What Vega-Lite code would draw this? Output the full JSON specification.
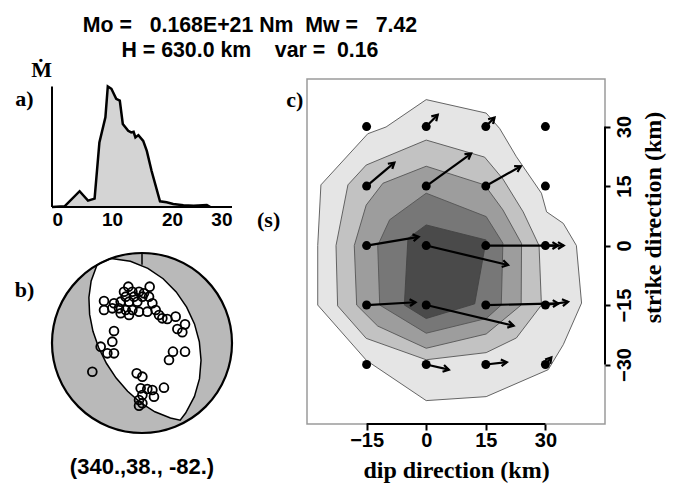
{
  "$schema": "https://vega.github.io/schema/vega-lite/v6.json",
  "background": "white",
  "autosize": {"type": "pad"},
  "padding": {"left": 14, "top": 15, "right": 5, "bottom": 5},
  "title": {
    "text": ["Mo =\u00a0\u00a0 0.168E+21 Nm\u00a0 Mw =\u00a0\u00a0 7.42", "H = 630.0 km\u00a0\u00a0\u00a0 var =\u00a0 0.16"],
    "anchor": "start", "frame": "group", "align": "center", "dx": 198,
    "fontSize": 21.3, "font": "Liberation Sans", "fontWeight": "bold", "color": "black", "lineHeight": 25, "offset": -3
  },
  "datasets": {
    "mrf": [
      {"t": 0, "v": 0}, {"t": 2.1, "v": 2}, {"t": 4.6, "v": 47}, {"t": 6.0, "v": 19}, {"t": 7.1, "v": 25},
      {"t": 7.9, "v": 192}, {"t": 8.9, "v": 267}, {"t": 9.3, "v": 359}, {"t": 9.9, "v": 352}, {"t": 10.7, "v": 322},
      {"t": 11.3, "v": 317}, {"t": 11.8, "v": 247}, {"t": 12.7, "v": 227}, {"t": 13.2, "v": 222}, {"t": 13.6, "v": 224},
      {"t": 13.9, "v": 207}, {"t": 14.4, "v": 214}, {"t": 15.2, "v": 197}, {"t": 15.8, "v": 167}, {"t": 16.6, "v": 107},
      {"t": 18.0, "v": 17}, {"t": 19.1, "v": 14}, {"t": 20.2, "v": 9}, {"t": 21.9, "v": 5}, {"t": 23.6, "v": 4},
      {"t": 25.8, "v": 6}, {"t": 26.4, "v": 0}
    ],
    "ayaxis": [{"t": 0, "v0": 0, "v1": 359}],
    "axline": [{"t0": 0, "t1": 30, "v": 0}],
    "alabels": [
      {"x": -1.75, "y": 388, "label": "Ṁ"},
      {"x": -4.6, "y": 301, "label": "a)"},
      {"x": 36.1, "y": -58.6, "label": "(s)"}
    ],
    "center": [{"x": 0, "y": 0}],
    "ntick": [{"x": 0, "y0": 1, "y1": 0.87}],
    "lens": [
      {"i": 1, "x": -0.342, "y": 0.940}, {"i": 2, "x": -0.129, "y": 0.908}, {"i": 3, "x": 0.065, "y": 0.830},
      {"i": 4, "x": 0.235, "y": 0.714}, {"i": 5, "x": 0.380, "y": 0.568}, {"i": 6, "x": 0.496, "y": 0.399},
      {"i": 7, "x": 0.583, "y": 0.212}, {"i": 8, "x": 0.637, "y": 0.014}, {"i": 9, "x": 0.656, "y": -0.191},
      {"i": 10, "x": 0.639, "y": -0.396}, {"i": 11, "x": 0.583, "y": -0.594}, {"i": 12, "x": 0.485, "y": -0.778},
      {"i": 13, "x": 0.424, "y": -0.857}, {"i": 14, "x": 0.316, "y": -0.834}, {"i": 15, "x": 0.143, "y": -0.764},
      {"i": 16, "x": -0.016, "y": -0.663}, {"i": 17, "x": -0.160, "y": -0.537}, {"i": 18, "x": -0.287, "y": -0.390},
      {"i": 19, "x": -0.394, "y": -0.228}, {"i": 20, "x": -0.481, "y": -0.053}, {"i": 21, "x": -0.545, "y": 0.130},
      {"i": 22, "x": -0.582, "y": 0.318}, {"i": 23, "x": -0.590, "y": 0.506}, {"i": 24, "x": -0.565, "y": 0.690},
      {"i": 25, "x": -0.500, "y": 0.866}, {"i": 26, "x": -0.423, "y": 0.906}, {"i": 27, "x": -0.342, "y": 0.940}
    ],
    "obs": [
      {"x": -0.152, "y": 0.626}, {"x": 0.085, "y": 0.626}, {"x": -0.2, "y": 0.570}, {"x": -0.107, "y": 0.570},
      {"x": -0.033, "y": 0.570}, {"x": 0.022, "y": 0.552}, {"x": -0.181, "y": 0.515}, {"x": -0.089, "y": 0.515},
      {"x": 0.004, "y": 0.515}, {"x": 0.078, "y": 0.515}, {"x": -0.422, "y": 0.467}, {"x": -0.311, "y": 0.441},
      {"x": -0.237, "y": 0.459}, {"x": -0.144, "y": 0.459}, {"x": -0.052, "y": 0.459}, {"x": 0.115, "y": 0.441},
      {"x": -0.422, "y": 0.367}, {"x": -0.330, "y": 0.385}, {"x": -0.256, "y": 0.385}, {"x": -0.181, "y": 0.367},
      {"x": -0.107, "y": 0.367}, {"x": -0.033, "y": 0.348}, {"x": 0.059, "y": 0.348}, {"x": 0.152, "y": 0.367},
      {"x": -0.237, "y": 0.330}, {"x": -0.144, "y": 0.311}, {"x": 0.189, "y": 0.311}, {"x": 0.226, "y": 0.274},
      {"x": 0.281, "y": 0.267}, {"x": 0.374, "y": 0.293}, {"x": 0.478, "y": 0.207}, {"x": 0.393, "y": 0.156},
      {"x": 0.448, "y": 0.119}, {"x": -0.311, "y": 0.133}, {"x": -0.330, "y": 0.015}, {"x": -0.459, "y": -0.041},
      {"x": -0.385, "y": -0.115}, {"x": -0.311, "y": -0.115}, {"x": 0.344, "y": -0.096}, {"x": 0.478, "y": -0.096},
      {"x": 0.300, "y": -0.189}, {"x": -0.552, "y": -0.319}, {"x": -0.059, "y": -0.337}, {"x": 0.004, "y": -0.374},
      {"x": -0.015, "y": -0.504}, {"x": 0.059, "y": -0.511}, {"x": 0.115, "y": -0.522}, {"x": 0.244, "y": -0.496},
      {"x": 0.133, "y": -0.596}, {"x": 0.004, "y": -0.578}, {"x": -0.033, "y": -0.633}, {"x": 0.004, "y": -0.670},
      {"x": -0.033, "y": -0.696}
    ],
    "blab": [{"x": -1.306, "y": 0.514, "label": "b)"}],
    "bmech": [{"x": 0, "y": -1.452, "label": "(340.,38., -82.)"}],
    "contours": [
      {"lev": 1, "i": 1, "x": 0, "y": 36.8}, {"lev": 1, "i": 2, "x": 15.1, "y": 33.4}, {"lev": 1, "i": 3, "x": 18.5, "y": 29.5},
      {"lev": 1, "i": 4, "x": 22.7, "y": 22.4}, {"lev": 1, "i": 5, "x": 29, "y": 13.2}, {"lev": 1, "i": 6, "x": 30.3, "y": 8.5},
      {"lev": 1, "i": 7, "x": 34.5, "y": 5.6}, {"lev": 1, "i": 8, "x": 37.8, "y": 0}, {"lev": 1, "i": 9, "x": 39.1, "y": -14.5},
      {"lev": 1, "i": 10, "x": 34.5, "y": -25}, {"lev": 1, "i": 11, "x": 30.7, "y": -31.3}, {"lev": 1, "i": 12, "x": 15.1, "y": -38.1},
      {"lev": 1, "i": 13, "x": 0, "y": -39.1}, {"lev": 1, "i": 14, "x": -15, "y": -29}, {"lev": 1, "i": 15, "x": -27.3, "y": -15},
      {"lev": 1, "i": 16, "x": -27.3, "y": 0}, {"lev": 1, "i": 17, "x": -26.5, "y": 15.3}, {"lev": 1, "i": 18, "x": -14.7, "y": 28.2},
      {"lev": 1, "i": 19, "x": -10.1, "y": 29.9}, {"lev": 1, "i": 20, "x": 0, "y": 36.8},
      {"lev": 2, "i": 1, "x": 0, "y": 26.6}, {"lev": 2, "i": 2, "x": 14.7, "y": 22.3}, {"lev": 2, "i": 3, "x": 19.3, "y": 16.8},
      {"lev": 2, "i": 4, "x": 24.4, "y": 8.5}, {"lev": 2, "i": 5, "x": 28.4, "y": 0}, {"lev": 2, "i": 6, "x": 29, "y": -15},
      {"lev": 2, "i": 7, "x": 22.7, "y": -23.3}, {"lev": 2, "i": 8, "x": 15.1, "y": -27}, {"lev": 2, "i": 9, "x": 0, "y": -28.8},
      {"lev": 2, "i": 10, "x": -15.1, "y": -23.4}, {"lev": 2, "i": 11, "x": -22.3, "y": -15.2}, {"lev": 2, "i": 12, "x": -22.7, "y": 0},
      {"lev": 2, "i": 13, "x": -19.7, "y": 15.3}, {"lev": 2, "i": 14, "x": -15.1, "y": 20.3}, {"lev": 2, "i": 15, "x": 0, "y": 26.6},
      {"lev": 3, "i": 1, "x": 0, "y": 20.0}, {"lev": 3, "i": 2, "x": 14.7, "y": 15.3}, {"lev": 3, "i": 3, "x": 19.3, "y": 9},
      {"lev": 3, "i": 4, "x": 24, "y": 0.5}, {"lev": 3, "i": 5, "x": 23.9, "y": -15}, {"lev": 3, "i": 6, "x": 15.1, "y": -22.3},
      {"lev": 3, "i": 7, "x": 0, "y": -25.9}, {"lev": 3, "i": 8, "x": -12.2, "y": -20.3}, {"lev": 3, "i": 9, "x": -17.5, "y": -15},
      {"lev": 3, "i": 10, "x": -18.1, "y": 0}, {"lev": 3, "i": 11, "x": -15.1, "y": 10.2}, {"lev": 3, "i": 12, "x": -10.9, "y": 15.7},
      {"lev": 3, "i": 13, "x": 0, "y": 20.0},
      {"lev": 4, "i": 1, "x": 0, "y": 13.2}, {"lev": 4, "i": 2, "x": 15.1, "y": 7.3}, {"lev": 4, "i": 3, "x": 19.3, "y": 0.6},
      {"lev": 4, "i": 4, "x": 18.9, "y": -15}, {"lev": 4, "i": 5, "x": 15.1, "y": -18.4}, {"lev": 4, "i": 6, "x": 0, "y": -22.1},
      {"lev": 4, "i": 7, "x": -11.7, "y": -15}, {"lev": 4, "i": 8, "x": -12.2, "y": 0}, {"lev": 4, "i": 9, "x": -9.2, "y": 6.5},
      {"lev": 4, "i": 10, "x": 0, "y": 13.2},
      {"lev": 5, "i": 1, "x": 0, "y": 5.2}, {"lev": 5, "i": 2, "x": 15.1, "y": 1.4}, {"lev": 5, "i": 3, "x": 12.2, "y": -14.7},
      {"lev": 5, "i": 4, "x": 0, "y": -18.4}, {"lev": 5, "i": 5, "x": -5.5, "y": -15}, {"lev": 5, "i": 6, "x": -4.6, "y": 1.8},
      {"lev": 5, "i": 7, "x": 0, "y": 5.2}
    ],
    "slip": [
      {"x": -15, "y": 30, "x2": -15, "y2": 30}, {"x": 0, "y": 30, "x2": 2.9, "y2": 33}, {"x": 15, "y": 30, "x2": 17.2, "y2": 32.3}, {"x": 30, "y": 30, "x2": 30, "y2": 30},
      {"x": -15, "y": 15, "x2": -8, "y2": 20.9}, {"x": 0, "y": 15, "x2": 11.3, "y2": 23.2}, {"x": 15, "y": 15, "x2": 23.8, "y2": 20}, {"x": 30, "y": 15, "x2": 30, "y2": 15},
      {"x": -15, "y": 0, "x2": -1.9, "y2": 2.2}, {"x": 0, "y": 0, "x2": 20.6, "y2": -4.9}, {"x": 15, "y": 0, "x2": 33.2, "y2": 0}, {"x": 30, "y": 0, "x2": 34.6, "y2": 0},
      {"x": -15, "y": -15, "x2": -2.7, "y2": -14.3}, {"x": 0, "y": -15, "x2": 22, "y2": -20.2}, {"x": 15, "y": -15, "x2": 33.3, "y2": -14.6}, {"x": 30, "y": -15, "x2": 35.7, "y2": -14.2},
      {"x": -15, "y": -30, "x2": -15, "y2": -30}, {"x": 0, "y": -30, "x2": 5.7, "y2": -31.3}, {"x": 15, "y": -30, "x2": 20.3, "y2": -29.4}, {"x": 30, "y": -30, "x2": 31.5, "y2": -28.2}
    ],
    "caxes": [{"x": -15, "x2": 30, "y": -45, "y2": -45}, {"x": 45, "x2": 45, "y": -30, "y2": 30}],
    "clab": [{"x": -33.1, "y": 34.9, "label": "c)"}]
  },
  "hconcat": [
    {
      "width": 180, "height": 354,
      "resolve": {"scale": {"x": "independent", "y": "independent"}},
      "layer": [
        {
          "data": {"name": "mrf"},
          "mark": {"type": "area", "fill": "#d4d4d4", "fillOpacity": 1, "line": {"stroke": "black", "strokeWidth": 2.5}},
          "encoding": {
            "x": {"field": "t", "type": "quantitative", "scale": {"domain": [0, 30], "nice": false, "zero": false},
              "axis": {"orient": "bottom", "offset": -226, "values": [0, 10, 20, 30], "title": null, "domain": false,
                "ticks": false, "labelFontSize": 19, "labelPadding": 3}},
            "y": {"field": "v", "type": "quantitative", "scale": {"domain": [-672.6, 381], "nice": false, "zero": false}, "axis": null}
          }
        },
        {
          "data": {"name": "ayaxis"},
          "mark": {"type": "rule", "stroke": "black", "strokeWidth": 2},
          "encoding": {
            "x": {"field": "t", "type": "quantitative", "scale": {"domain": [0, 30], "nice": false, "zero": false}, "axis": null},
            "y": {"field": "v0", "type": "quantitative", "scale": {"domain": [-672.6, 381], "nice": false, "zero": false}, "axis": null},
            "y2": {"field": "v1"}
          }
        },
        {
          "data": {"name": "axline"},
          "mark": {"type": "rule", "stroke": "black", "strokeWidth": 2},
          "encoding": {
            "x": {"field": "t0", "type": "quantitative", "scale": {"domain": [0, 30], "nice": false, "zero": false}, "axis": null},
            "x2": {"field": "t1"},
            "y": {"field": "v", "type": "quantitative", "scale": {"domain": [-672.6, 381], "nice": false, "zero": false}, "axis": null}
          }
        },
        {
          "data": {"name": "alabels"},
          "mark": {"type": "text", "font": "Liberation Serif", "fontWeight": "bold", "fontSize": 22, "align": "center", "baseline": "alphabetic", "color": "black"},
          "encoding": {
            "x": {"field": "x", "type": "quantitative", "scale": {"domain": [0, 30], "nice": false, "zero": false}, "axis": null},
            "y": {"field": "y", "type": "quantitative", "scale": {"domain": [-672.6, 381], "nice": false, "zero": false}, "axis": null},
            "text": {"field": "label"}
          }
        },
        {
          "data": {"name": "center"},
          "mark": {"type": "point", "shape": "circle", "filled": true, "fill": "#b9b9b9", "strokeWidth": 0, "size": 32400, "opacity": 1},
          "encoding": {
            "x": {"field": "x", "type": "quantitative", "scale": {"domain": [-1, 1], "nice": false, "zero": false}, "axis": null},
            "y": {"field": "y", "type": "quantitative", "scale": {"domain": [-1, 2.9333], "nice": false, "zero": false}, "axis": null}
          }
        },
        {
          "data": {"name": "lens"},
          "mark": {"type": "line", "fill": "white", "stroke": "black", "strokeWidth": 1.5},
          "encoding": {
            "x": {"field": "x", "type": "quantitative", "scale": {"domain": [-1, 1], "nice": false, "zero": false}, "axis": null},
            "y": {"field": "y", "type": "quantitative", "scale": {"domain": [-1, 2.9333], "nice": false, "zero": false}, "axis": null},
            "order": {"field": "i", "type": "quantitative"}
          }
        },
        {
          "data": {"name": "ntick"},
          "mark": {"type": "rule", "stroke": "black", "strokeWidth": 1.5},
          "encoding": {
            "x": {"field": "x", "type": "quantitative", "scale": {"domain": [-1, 1], "nice": false, "zero": false}, "axis": null},
            "y": {"field": "y0", "type": "quantitative", "scale": {"domain": [-1, 2.9333], "nice": false, "zero": false}, "axis": null},
            "y2": {"field": "y1"}
          }
        },
        {
          "data": {"name": "obs"},
          "mark": {"type": "point", "shape": "circle", "filled": false, "stroke": "black", "strokeWidth": 1.8, "size": 78, "opacity": 1},
          "encoding": {
            "x": {"field": "x", "type": "quantitative", "scale": {"domain": [-1, 1], "nice": false, "zero": false}, "axis": null},
            "y": {"field": "y", "type": "quantitative", "scale": {"domain": [-1, 2.9333], "nice": false, "zero": false}, "axis": null}
          }
        },
        {
          "data": {"name": "center"},
          "mark": {"type": "point", "shape": "circle", "filled": false, "stroke": "black", "strokeWidth": 2.2, "size": 32400, "opacity": 1},
          "encoding": {
            "x": {"field": "x", "type": "quantitative", "scale": {"domain": [-1, 1], "nice": false, "zero": false}, "axis": null},
            "y": {"field": "y", "type": "quantitative", "scale": {"domain": [-1, 2.9333], "nice": false, "zero": false}, "axis": null}
          }
        },
        {
          "data": {"name": "blab"},
          "mark": {"type": "text", "font": "Liberation Serif", "fontWeight": "bold", "fontSize": 22, "align": "center", "baseline": "alphabetic", "color": "black"},
          "encoding": {
            "x": {"field": "x", "type": "quantitative", "scale": {"domain": [-1, 1], "nice": false, "zero": false}, "axis": null},
            "y": {"field": "y", "type": "quantitative", "scale": {"domain": [-1, 2.9333], "nice": false, "zero": false}, "axis": null},
            "text": {"field": "label"}
          }
        },
        {
          "data": {"name": "bmech"},
          "mark": {"type": "text", "font": "Liberation Sans", "fontWeight": "bold", "fontSize": 22, "align": "center", "baseline": "alphabetic", "color": "black"},
          "encoding": {
            "x": {"field": "x", "type": "quantitative", "scale": {"domain": [-1, 1], "nice": false, "zero": false}, "axis": null},
            "y": {"field": "y", "type": "quantitative", "scale": {"domain": [-1, 2.9333], "nice": false, "zero": false}, "axis": null},
            "text": {"field": "label"}
          }
        }
      ]
    },
    {
      "width": 298, "height": 345,
      "view": {"stroke": "#9a9a9a", "strokeWidth": 1.5},
      "resolve": {"scale": {"x": "independent", "y": "independent"}},
      "layer": [
        {
          "data": {"name": "contours"},
          "transform": [{"filter": "datum.lev == 1"}],
          "mark": {"type": "line", "fill": "#e5e5e5", "stroke": "#555555", "strokeWidth": 0.9},
          "encoding": {
            "x": {"field": "x", "type": "quantitative", "scale": {"domain": [-30, 45], "nice": false, "zero": false},
              "axis": {"orient": "bottom", "values": [-15, 0, 15, 30], "domain": false, "ticks": true, "tickSize": 6,
                "labelFontSize": 20, "labelPadding": 0,
                "title": "dip direction (km)", "titleFontSize": 24, "titlePadding": 8}},
            "y": {"field": "y", "type": "quantitative", "scale": {"domain": [-45, 42], "nice": false, "zero": false},
              "axis": {"orient": "right", "values": [-30, -15, 0, 15, 30], "domain": false, "ticks": true, "tickSize": 5,
                "labelFontSize": 20, "labelPadding": 4, "labelAngle": 270, "labelAlign": "center", "labelBaseline": "top",
                "title": "strike direction (km)", "titleFontSize": 24,
                "titleAngle": 270, "titleAlign": "center", "titleBaseline": "top", "titleX": 36, "titleY": 138}},
            "order": {"field": "i", "type": "quantitative"}
          }
        },
        {
          "data": {"name": "contours"},
          "transform": [{"filter": "datum.lev == 2"}],
          "mark": {"type": "line", "fill": "#c2c2c2", "stroke": "#555555", "strokeWidth": 0.9},
          "encoding": {
            "x": {"field": "x", "type": "quantitative", "scale": {"domain": [-30, 45], "nice": false, "zero": false}, "axis": null},
            "y": {"field": "y", "type": "quantitative", "scale": {"domain": [-45, 42], "nice": false, "zero": false}, "axis": null},
            "order": {"field": "i", "type": "quantitative"}
          }
        },
        {
          "data": {"name": "contours"},
          "transform": [{"filter": "datum.lev == 3"}],
          "mark": {"type": "line", "fill": "#9d9d9d", "stroke": "#555555", "strokeWidth": 0.9},
          "encoding": {
            "x": {"field": "x", "type": "quantitative", "scale": {"domain": [-30, 45], "nice": false, "zero": false}, "axis": null},
            "y": {"field": "y", "type": "quantitative", "scale": {"domain": [-45, 42], "nice": false, "zero": false}, "axis": null},
            "order": {"field": "i", "type": "quantitative"}
          }
        },
        {
          "data": {"name": "contours"},
          "transform": [{"filter": "datum.lev == 4"}],
          "mark": {"type": "line", "fill": "#777777", "stroke": "#555555", "strokeWidth": 0.9},
          "encoding": {
            "x": {"field": "x", "type": "quantitative", "scale": {"domain": [-30, 45], "nice": false, "zero": false}, "axis": null},
            "y": {"field": "y", "type": "quantitative", "scale": {"domain": [-45, 42], "nice": false, "zero": false}, "axis": null},
            "order": {"field": "i", "type": "quantitative"}
          }
        },
        {
          "data": {"name": "contours"},
          "transform": [{"filter": "datum.lev == 5"}],
          "mark": {"type": "line", "fill": "#4a4a4a", "stroke": "#444444", "strokeWidth": 0.9},
          "encoding": {
            "x": {"field": "x", "type": "quantitative", "scale": {"domain": [-30, 45], "nice": false, "zero": false}, "axis": null},
            "y": {"field": "y", "type": "quantitative", "scale": {"domain": [-45, 42], "nice": false, "zero": false}, "axis": null},
            "order": {"field": "i", "type": "quantitative"}
          }
        },
        {
          "data": {"name": "slip"},
          "transform": [{"filter": "(datum.x2-datum.x)*(datum.x2-datum.x)+(datum.y2-datum.y)*(datum.y2-datum.y) > 0.5"}],
          "mark": {"type": "rule", "stroke": "black", "strokeWidth": 2.2},
          "encoding": {
            "x": {"field": "x", "type": "quantitative", "scale": {"domain": [-30, 45], "nice": false, "zero": false}, "axis": null},
            "y": {"field": "y", "type": "quantitative", "scale": {"domain": [-45, 42], "nice": false, "zero": false}, "axis": null},
            "x2": {"field": "x2"},
            "y2": {"field": "y2"}
          }
        },
        {
          "data": {"name": "slip"},
          "mark": {"type": "point", "shape": "circle", "filled": true, "fill": "black", "size": 80, "opacity": 1},
          "encoding": {
            "x": {"field": "x", "type": "quantitative", "scale": {"domain": [-30, 45], "nice": false, "zero": false}, "axis": null},
            "y": {"field": "y", "type": "quantitative", "scale": {"domain": [-45, 42], "nice": false, "zero": false}, "axis": null}
          }
        },
        {
          "data": {"name": "slip"},
          "transform": [
            {"filter": "(datum.x2-datum.x)*(datum.x2-datum.x)+(datum.y2-datum.y)*(datum.y2-datum.y) > 0.5"},
            {"calculate": "atan2(datum.x2-datum.x, datum.y2-datum.y)*180/PI", "as": "ang"}
          ],
          "mark": {"type": "point", "shape": "M -0.6 1 L 0 0 L 0.6 1", "filled": false, "stroke": "black", "strokeWidth": 2.2, "size": 130, "opacity": 1},
          "encoding": {
            "x": {"field": "x2", "type": "quantitative", "scale": {"domain": [-30, 45], "nice": false, "zero": false}, "axis": null},
            "y": {"field": "y2", "type": "quantitative", "scale": {"domain": [-45, 42], "nice": false, "zero": false}, "axis": null},
            "angle": {"field": "ang", "type": "quantitative", "scale": null}
          }
        },
        {
          "data": {"name": "caxes"},
          "mark": {"type": "rule", "stroke": "black", "strokeWidth": 2},
          "encoding": {
            "x": {"field": "x", "type": "quantitative", "scale": {"domain": [-30, 45], "nice": false, "zero": false}, "axis": null},
            "y": {"field": "y", "type": "quantitative", "scale": {"domain": [-45, 42], "nice": false, "zero": false}, "axis": null},
            "x2": {"field": "x2"},
            "y2": {"field": "y2"}
          }
        },
        {
          "data": {"name": "clab"},
          "mark": {"type": "text", "font": "Liberation Serif", "fontWeight": "bold", "fontSize": 22, "align": "center", "baseline": "alphabetic", "color": "black"},
          "encoding": {
            "x": {"field": "x", "type": "quantitative", "scale": {"domain": [-30, 45], "nice": false, "zero": false}, "axis": null},
            "y": {"field": "y", "type": "quantitative", "scale": {"domain": [-45, 42], "nice": false, "zero": false}, "axis": null},
            "text": {"field": "label"}
          }
        }
      ]
    }
  ],
  "spacing": 75,
  "bounds": "flush",
  "config": {
    "view": {"stroke": null},
    "axis": {"grid": false, "labelFont": "Liberation Sans", "labelFontWeight": "bold", "labelColor": "black",
      "titleFont": "Liberation Serif", "titleFontWeight": "bold", "titleColor": "black",
      "tickColor": "black", "tickWidth": 2, "domainColor": "black", "domainWidth": 2},
    "font": "Liberation Sans"
  }
}
